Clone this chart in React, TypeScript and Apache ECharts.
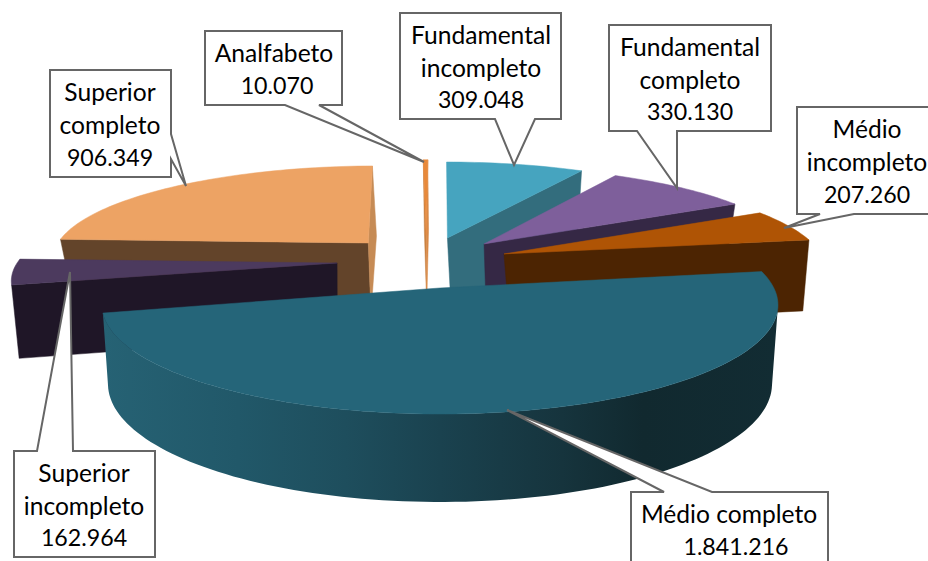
import React, { useEffect, useRef } from "react";
import * as echarts from "echarts";

const categories = ["Fundamental incompleto", "Fundamental completo", "Médio incompleto", "Médio completo", "Superior incompleto", "Superior completo", "Analfabeto"];
const values = [309048, 330130, 207260, 1841216, 162964, 906349, 10070];

// Slice look: world-space explosion, radius, wall lean, paint order and face colours.
const sliceLook = [
  { off: [0.024, -0.508], r: [0.99, 0.945], lean: 4, z: 1, top: "#46A4BF", arc: "#336D7D", start: "#336D7D", end: "#336D7D" },
  { off: [0.141, -0.443], r: [0.99, 0.945], lean: 4, z: 4, top: "#7E5F9B", arc: "#352845", start: "#352845", end: "#352845" },
  { off: [0.2017, -0.337], r: [1.0, 0.945], lean: 8, z: 5, top: "#AF5405", arc: "#4C2402", start: "#4C2402", end: "#4C2402" },
  { off: [0, 0], r: [1, 1], lean: 0, z: 6, top: "#256579", arc: "grad", start: "#256579", end: "#122B33" },
  { off: [-0.32, -0.2436], r: [0.995, 0.945], lean: -3, z: 3, top: "#4C3A5E", arc: "#1F1627", start: "#1F1627", end: "#1F1627" },
  { off: [-0.23, -0.453], r: [0.995, 0.945], lean: 0, z: 2, top: "#EDA364", arc: "#63442A", start: "#63442A", end: "#C68B55" },
  { off: [-0.045, -0.54], r: [0.99, 0.945], lean: 0, z: 2, top: "#E8893A", arc: "#C98040", start: "#C98040", end: "#D98A48" },
];

const total = values.reduce((a, b) => a + b, 0);
const cumulative: number[] = [];
values.reduce((a, v, i) => ((cumulative[i] = a), a + v), 0);

const planes = {
  top: { cx: 440, cy: 305, rx: 338, ry: 109, c: 0.156 },
  bottom: { cx: 440, cy: 384, rx: 332, ry: 118, c: 0.19 },
};

function project(U: number, V: number, plane: typeof planes.top, lean = 0) {
  const d = 1 - plane.c * V;
  const X = (U * Math.sqrt(1 - plane.c * plane.c)) / d;
  const Y = (V - plane.c) / d;
  return [plane.cx + plane.rx * X + lean, plane.cy + plane.ry * Y];
}

function signedArea(pts: number[][]) {
  let s = 0;
  pts.forEach((p, i) => {
    const q = pts[(i + 1) % pts.length];
    s += p[0] * q[1] - q[0] * p[1];
  });
  return s;
}

const wallGradient = () =>
  new echarts.graphic.LinearGradient(0, 0, 1, 0, [
    { offset: 0, color: "#266274" },
    { offset: 0.2, color: "#215869" },
    { offset: 0.36, color: "#1E4E5D" },
    { offset: 0.5, color: "#1A424F" },
    { offset: 0.68, color: "#16343D" },
    { offset: 0.8, color: "#11292F" },
    { offset: 1, color: "#122C33" },
  ]);

function renderSlice(_: any, api: any) {
  const i = api.value(0) as number;
  const look = sliceLook[i];
  const a0 = (cumulative[i] / total) * Math.PI * 2;
  const a1 = ((cumulative[i] + values[i]) / total) * Math.PI * 2;
  const n = Math.max(2, Math.ceil((a1 - a0) / (Math.PI / 120)));
  const world: number[][] = [];
  for (let k = 0; k <= n; k++) {
    const t = a0 + ((a1 - a0) * k) / n;
    world.push([look.off[0] + look.r[0] * Math.sin(t), look.off[1] - look.r[1] * Math.cos(t)]);
  }
  const rimT = world.map((w) => project(w[0], w[1], planes.top));
  const rimB = world.map((w) => project(w[0], w[1], planes.bottom, look.lean));
  const apexT = project(look.off[0], look.off[1], planes.top);
  const apexB = project(look.off[0], look.off[1], planes.bottom, look.lean);
  const base = look.z * 10;
  const children: any[] = [];
  const poly = (points: number[][], fill: any, z2: number) =>
    children.push({
      type: "polygon",
      z2,
      shape: { points },
      style: { fill, stroke: typeof fill === "string" ? fill : "none", lineWidth: typeof fill === "string" ? 0.5 : 0 },
    });

  const startFace = [apexT, rimT[0], rimB[0], apexB];
  if (signedArea(startFace) < 0) poly(startFace, look.start, base + 1);
  const endFace = [rimT[n], apexT, apexB, rimB[n]];
  if (signedArea(endFace) < 0) poly(endFace, look.end, base + 1);

  let first = -1;
  let last = -1;
  for (let k = 0; k < n; k++) {
    if (signedArea([rimT[k], rimT[k + 1], rimB[k + 1], rimB[k]]) < 0) {
      if (first < 0) first = k;
      last = k;
    }
  }
  if (first >= 0) {
    const upper = rimT.slice(first, last + 2);
    const lower = rimB.slice(first, last + 2).reverse();
    poly(upper.concat(lower), look.arc === "grad" ? wallGradient() : look.arc, base + 2);
  }
  poly([apexT].concat(rimT), look.top, base + 5);
  return { type: "group", children };
}

const fmt = (v: number) => String(v).replace(/\B(?=(\d{3})+(?!\d))/g, ".");
const FONT = "24.6px Lato";
const NUMBER_FONT = "23.2px Lato";

// Callout outlines and text anchors.
const callouts = [
  { outline: [[50, 70], [171, 70], [171, 134], [186, 186], [171, 159], [171, 177], [50, 177]], lines: [["Superior", 110, 91], ["completo", 110, 124], [fmt(values[5]), 110, 157]] },
  { outline: [[205, 31], [342, 31], [342, 105], [319, 105], [424, 162], [285, 105], [205, 105]], lines: [["Analfabeto", 274, 52], [fmt(values[6]), 277, 85]] },
  { outline: [[400, 13], [561, 13], [561, 119], [535, 119], [514, 165], [495, 119], [400, 119]], lines: [["Fundamental", 481, 34], ["incompleto", 481, 67], [fmt(values[0]), 481, 99]] },
  { outline: [[609, 25], [771, 25], [771, 131], [677, 131], [677, 188], [637, 131], [609, 131]], lines: [["Fundamental", 690, 46], ["completo", 690, 79], [fmt(values[1]), 690, 111]] },
  { outline: [[797, 107], [940, 107], [940, 214], [854, 214], [784, 228], [820, 214], [797, 214]], lines: [["Médio", 867, 128], ["incompleto", 867, 161], [fmt(values[2]), 867, 194]] },
  { outline: [[14, 451], [37, 451], [70, 272], [73, 451], [155, 451], [155, 557], [14, 557]], lines: [["Superior", 84, 472], ["incompleto", 84, 505], [fmt(values[4]), 84, 537]] },
  { outline: [[631, 492], [664, 492], [507, 410], [712, 492], [828, 492], [828, 580], [631, 580]], lines: [["Médio completo", 729, 513], [fmt(values[3]), 736, 546]] },
];

const graphicElements: any[] = [];
callouts.forEach((c, i) => {
  graphicElements.push({
    type: "polygon",
    z: 100 + i,
    shape: { points: c.outline },
    style: { fill: "#ffffff", stroke: "#666666", lineWidth: 2 },
  });
  c.lines.forEach((l) => {
    const isNumber = /^[\d.]+$/.test(String(l[0]));
    graphicElements.push({
      type: "text",
      z: 120,
      x: l[1],
      y: l[2],
      style: { text: l[0], font: isNumber ? NUMBER_FONT : FONT, fill: "#000000", textAlign: "center", textVerticalAlign: "middle" },
    });
  });
});

export default function App() {
  const ref = useRef<HTMLDivElement>(null);
  useEffect(() => {
    document.body.style.margin = "0";
    const chart = echarts.init(ref.current!, undefined, { renderer: "svg" });
    chart.setOption({
      animation: false,
      backgroundColor: "#ffffff",
      series: [
        {
          type: "custom",
          coordinateSystem: "none",
          silent: true,
          clip: false,
          renderItem: renderSlice,
          encode: { value: 0 },
          data: categories.map((name, i) => ({ name, value: [i, values[i]] })),
        },
      ],
      graphic: { elements: graphicElements },
    });
    return () => chart.dispose();
  }, []);
  return <div ref={ref} style={{ width: 928, height: 561, position: "fixed", left: 0, top: 0 }} />;
}
